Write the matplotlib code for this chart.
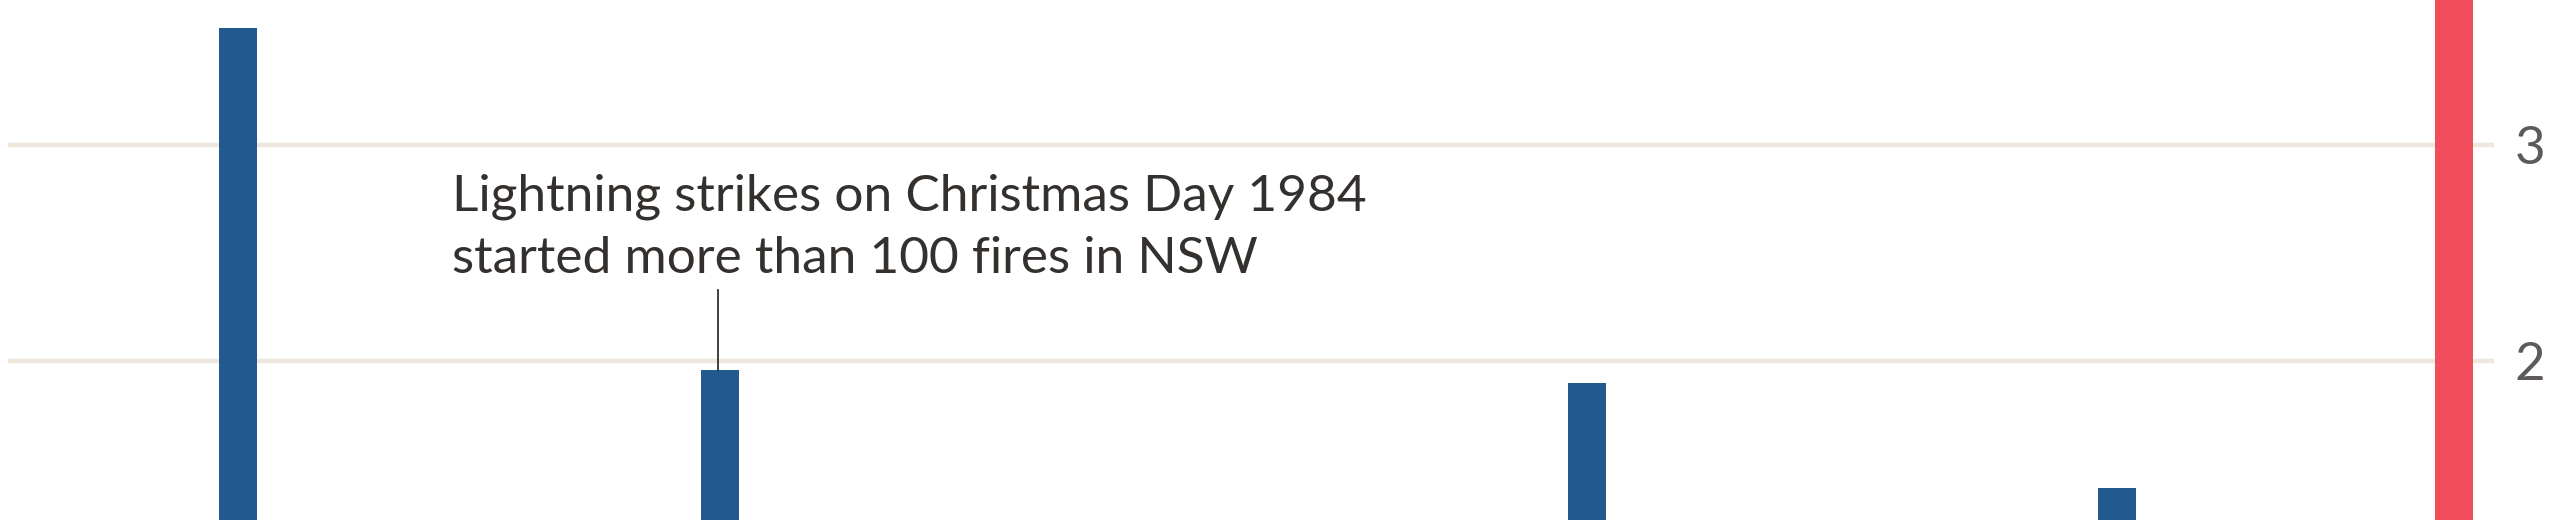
import matplotlib
matplotlib.use("Agg")
import matplotlib.pyplot as plt

# data (million hectares burnt, by season start year)
years = [1974, 1984, 2002, 2013, 2020]
area = [3.54, 1.96, 1.90, 1.41, 5.4]
colors = ['#22598f', '#22598f', '#22598f', '#22598f', '#f24d5d']
yticks = [2, 3]
note = "Lightning strikes on Christmas Day 1984\nstarted more than 100 fires in NSW"
note_year = 1984
note_top = 2.33

plt.rcParams['font.family'] = ['Lato', 'DejaVu Sans']

fig = plt.figure(figsize=(25.6, 5.2), dpi=100)
ax = fig.add_axes([8 / 2560, 0, (2494 - 8) / 2560, 1])

ax.bar(years, area, width=0.79, color=colors, zorder=2)

# gridlines
for t in yticks:
    ax.axhline(t, color='#efe6dc', linewidth=3.2, zorder=1)

ax.set_xlim(1969.22, 2020.83)
ax.set_ylim(1.264, 3.671)

ax.yaxis.tick_right()
ax.set_yticks(yticks)
ax.set_yticklabels([str(t) for t in yticks])
ax.tick_params(axis='y', length=0, pad=15, labelsize=38, labelcolor='#5e5a57')
ax.set_xticks([])
for s in ax.spines.values():
    s.set_visible(False)

# annotation
bar_top = area[years.index(note_year)]
ax.plot([note_year - 0.04, note_year - 0.04], [bar_top, note_top], color='#33302e', linewidth=1.3, zorder=3)
ax.text(1978.44, 2.87, note, fontsize=37, color='#33302e', va='top', ha='left', linespacing=1.45)

fig.savefig('out.png', dpi=100)
